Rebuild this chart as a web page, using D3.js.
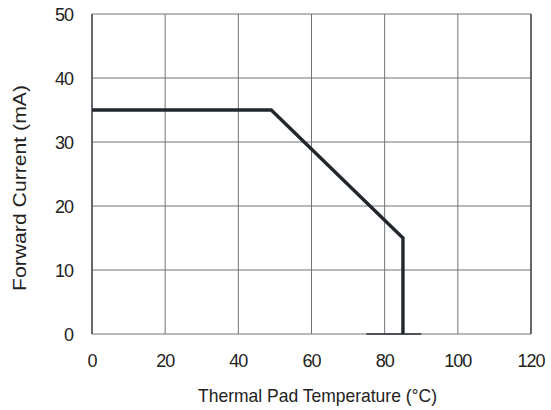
<!DOCTYPE html>
<html>
<head>
<meta charset="utf-8">
<script src="https://cdn.jsdelivr.net/npm/d3@7"></script>
<style>
  body { margin: 0; background: #fff; }
  text { font-family: "Liberation Sans", Arial, sans-serif; fill: #222; }
</style>
</head>
<body>
<div id="chart"></div>
<script>
// Derating curve data
const tempValues = [0, 49, 85, 85];
const currentValues = [35, 35, 15, 0];
const xTicks = [0, 20, 40, 60, 80, 100, 120];
const yTicks = [0, 10, 20, 30, 40, 50];
const baseSegment = [75, 90]; // short dark stub on the x axis

const width = 551, height = 410;
const margin = { left: 92, right: 20, top: 14, bottom: 76 };

const svg = d3.select("#chart").append("svg")
    .attr("width", width)
    .attr("height", height);

const x = d3.scaleLinear().domain([0, 120]).range([margin.left, width - margin.right]);
const y = d3.scaleLinear().domain([0, 50]).range([height - margin.bottom, margin.top]);

// grid
svg.append("g").selectAll("line.v")
    .data(xTicks)
    .enter().append("line")
    .attr("x1", d => x(d)).attr("x2", d => x(d))
    .attr("y1", y(0)).attr("y2", y(50))
    .attr("stroke", "#6f7378")
    .attr("stroke-width", 1);

svg.append("g").selectAll("line.h")
    .data(yTicks)
    .enter().append("line")
    .attr("x1", x(0)).attr("x2", x(120))
    .attr("y1", d => y(d)).attr("y2", d => y(d))
    .attr("stroke", "#6f7378")
    .attr("stroke-width", 1);

// left and right frame a bit darker
svg.append("line")
    .attr("x1", x(0)).attr("x2", x(0)).attr("y1", y(0)).attr("y2", y(50))
    .attr("stroke", "#333").attr("stroke-width", 1.2);
svg.append("line")
    .attr("x1", x(120)).attr("x2", x(120)).attr("y1", y(0)).attr("y2", y(50))
    .attr("stroke", "#333").attr("stroke-width", 1.2);

// stub at the bottom
svg.append("line")
    .attr("x1", x(baseSegment[0])).attr("x2", x(baseSegment[1]))
    .attr("y1", y(0)).attr("y2", y(0))
    .attr("stroke", "#2a2f36").attr("stroke-width", 1.4);

// curve
const line = d3.line()
    .x((d, i) => x(tempValues[i]))
    .y(d => y(d));

svg.append("path")
    .datum(currentValues)
    .attr("d", line)
    .attr("fill", "none")
    .attr("stroke", "#22272e")
    .attr("stroke-width", 3.4)
    .attr("stroke-linejoin", "miter");

// tick labels
svg.append("g").selectAll("text")
    .data(xTicks)
    .enter().append("text")
    .attr("x", d => x(d))
    .attr("y", 367)
    .attr("text-anchor", "middle")
    .attr("font-size", 18)
    .attr("letter-spacing", -1)
    .text(d => d);

svg.append("g").selectAll("text")
    .data(yTicks)
    .enter().append("text")
    .attr("x", 73)
    .attr("y", d => y(d) + 6.5)
    .attr("text-anchor", "end")
    .attr("font-size", 18)
    .attr("letter-spacing", -1)
    .text(d => d);

// axis titles
svg.append("text")
    .attr("x", 198)
    .attr("y", 402)
    .attr("font-size", 19)
    .attr("textLength", 239)
    .attr("lengthAdjust", "spacingAndGlyphs")
    .text("Thermal Pad Temperature (°C)");

svg.append("text")
    .attr("transform", "translate(26,291) rotate(-90)")
    .attr("font-size", 18)
    .attr("textLength", 206)
    .attr("lengthAdjust", "spacingAndGlyphs")
    .text("Forward Current (mA)");
</script>
</body>
</html>
